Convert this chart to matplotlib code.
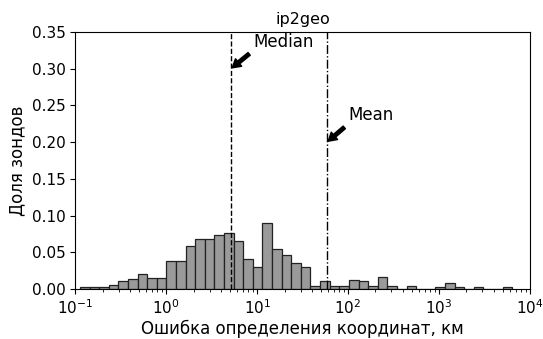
import numpy as np
import matplotlib
matplotlib.use('Agg')
from matplotlib import pyplot as plt

# histogram: 45 log-spaced bins, fraction of probes per bin
log_lo = -0.948
log_hi = 3.804
n_bins = 45
fractions = [0.0027, 0.0027, 0.0027, 0.005, 0.011, 0.013, 0.0205, 0.0155, 0.0155,
             0.038, 0.038, 0.0586, 0.0686, 0.0686, 0.0736, 0.0768, 0.065, 0.0413,
             0.030, 0.0895, 0.054, 0.046, 0.035, 0.030, 0.0041, 0.0114, 0.0045,
             0.0045, 0.0123, 0.011, 0.0045, 0.016, 0.0045, 0.0, 0.0045, 0.0, 0.0,
             0.0023, 0.008, 0.0023, 0.0, 0.0023, 0.0, 0.0, 0.0023]

median_err = 5.16
mean_err = 58.7

title = 'ip2geo'
xlabel = 'Ошибка определения координат, км'
ylabel = 'Доля зондов'

edges = np.logspace(log_lo, log_hi, n_bins + 1)

fig = plt.figure(figsize=(5.43, 3.39), dpi=100)
ax = fig.add_axes([0.1387, 0.1475, 0.976 - 0.1387, 0.9056 - 0.1475])

ax.hist(edges[:-1], bins=edges, weights=fractions,
        facecolor='#9a9a9a', edgecolor='#222222', linewidth=0.9)

ax.set_xscale('log')
ax.set_xlim(1e-1, 1e4)
ax.set_ylim(0, 0.35)
ax.set_yticks(np.arange(0, 0.36, 0.05))
ax.tick_params(labelsize=11)

ax.axvline(median_err, color='black', linestyle='--', linewidth=1)
ax.axvline(mean_err, color='black', linestyle='-.', linewidth=1)

arrow = dict(facecolor='black', shrink=0.05, width=2.5, headwidth=7, headlength=6)
ax.annotate('Median', xy=(median_err, 0.3), xytext=(9, 0.33), fontsize=12,
            arrowprops=arrow)
ax.annotate('Mean', xy=(mean_err, 0.2), xytext=(100, 0.23), fontsize=12,
            arrowprops=arrow)

ax.set_title(title, fontsize=11.5)
ax.set_xlabel(xlabel, fontsize=12, labelpad=2)
ax.set_ylabel(ylabel, fontsize=12)

fig.savefig('out.png', dpi=100)
